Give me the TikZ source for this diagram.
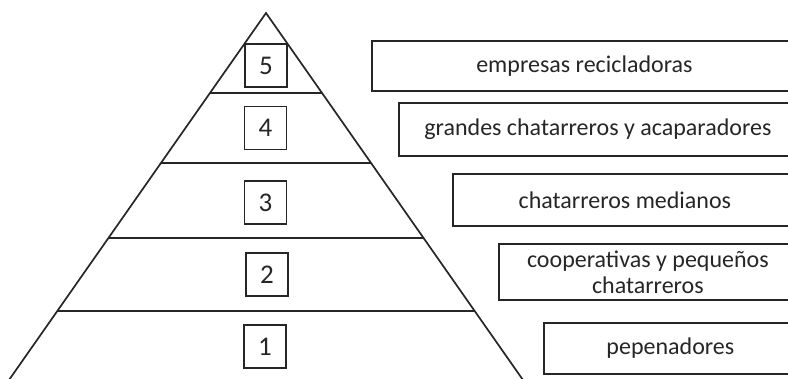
\documentclass[tikz,border=0pt]{standalone}
\usepackage{fontspec}
\setmainfont{Carlito}
\usetikzlibrary{calc}

\tikzset{
	numbox/.style={draw, line width=1.8pt, minimum width=42pt, minimum height=43pt, inner sep=0pt, font=\fontsize{27}{30}\selectfont},
	labbox/.style={draw, line width=1.8pt, anchor=west, inner sep=0pt, align=center, font=\fontsize{24}{26}\selectfont}
}

\begin{document}
\begin{tikzpicture}[x=1pt, y=-1pt, line width=1.7pt, color={black!85}]

	\useasboundingbox (0,0) rectangle (788,378);

	% pyramid
	\coordinate (apex) at (266,13);
	\coordinate (bl) at (9,380);
	\coordinate (br) at (523,380);
	\draw (bl) -- (apex) -- (br);

	\draw ($(apex)!0.218!(bl)$) -- ($(apex)!0.218!(br)$);
	\draw ($(apex)!0.409!(bl)$) -- ($(apex)!0.409!(br)$);
	\draw ($(apex)!0.613!(bl)$) -- ($(apex)!0.613!(br)$);
	\draw ($(apex)!0.812!(bl)$) -- ($(apex)!0.812!(br)$);

	% levels
	\node[numbox] (n5) at (266,65.5) {5};
	\node[numbox] (n4) at (265.5,128) {4};
	\node[numbox] (n3) at (265.5,202.5) {3};
	\node[numbox] (n2) at (267,274.5) {2};
	\node[numbox] (n1) at (265,346.5) {1};

	% actors
	\node[labbox, minimum width=425pt, minimum height=50pt] (l5) at (371,66) {empresas recicladoras};
	\node[labbox, minimum width=398pt, minimum height=53pt] (l4) at (398,129.5) {grandes chatarreros y acaparadores};
	\node[labbox, minimum width=344pt, minimum height=52pt] (l3) at (452,200) {chatarreros medianos};
	\node[labbox, minimum width=298pt, minimum height=56pt] (l2) at (498,272) {cooperativas y pequeños\\chatarreros};
	\node[labbox, minimum width=253pt, minimum height=51pt] (l1) at (543,348.5) {pepenadores};

\end{tikzpicture}
\end{document}
